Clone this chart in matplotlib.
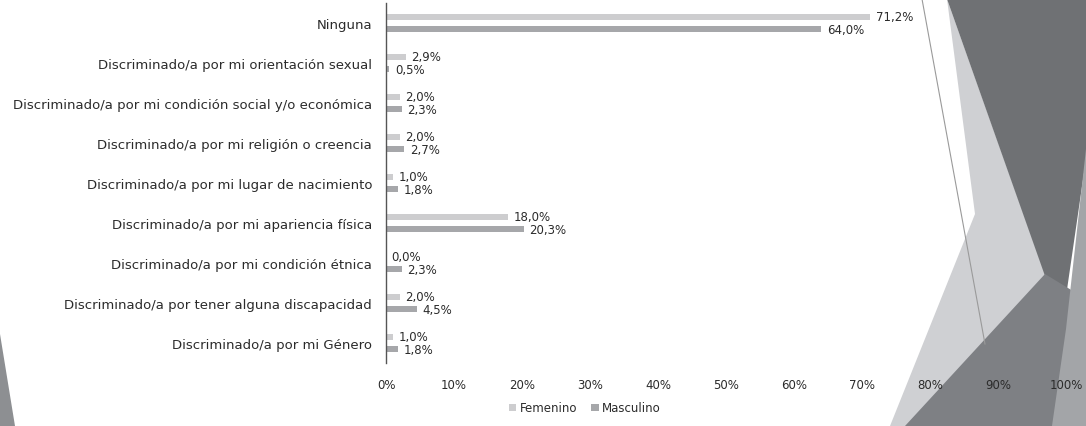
import matplotlib.pyplot as plt
import numpy as np
from matplotlib.patches import Polygon

categorias = [
    "Ninguna",
    "Discriminado/a por mi orientación sexual",
    "Discriminado/a por mi condición social y/o económica",
    "Discriminado/a por mi religión o creencia",
    "Discriminado/a por mi lugar de nacimiento",
    "Discriminado/a por mi apariencia física",
    "Discriminado/a por mi condición étnica",
    "Discriminado/a por tener alguna discapacidad",
    "Discriminado/a por mi Género",
]
femenino = [71.2, 2.9, 2.0, 2.0, 1.0, 18.0, 0.0, 2.0, 1.0]
masculino = [64.0, 0.5, 2.3, 2.7, 1.8, 20.3, 2.3, 4.5, 1.8]
ticks = [0, 10, 20, 30, 40, 50, 60, 70, 80, 90, 100]

c_fem = "#cdcdcf"
c_mas = "#a6a7aa"
c_txt = "#2b2b2b"

fig = plt.figure(figsize=(10.86, 4.27), dpi=100)
W, H = 1086.0, 427.0

def fondo(pts, color, z=-2, alpha=1.0):
    # decoracion de la diapositiva (pixeles -> coords figura)
    xy = [(x / W, 1 - y / H) for x, y in pts]
    fig.patches.append(Polygon(xy, closed=True, transform=fig.transFigure,
                               facecolor=color, edgecolor="none", zorder=z, alpha=alpha))

fondo([(947, 0), (1086, 0), (1086, 160), (1062, 325)], "#6f7174")
fondo([(947, 0), (1045, 275), (1000, 427), (890, 427), (975, 215)], "#cfd0d3", z=-3)
fondo([(1045, 275), (1086, 300), (1086, 427), (905, 427)], "#7e8084")
fondo([(1086, 150), (1086, 427), (1052, 427), (1066, 330)], "#a3a5a8")
fondo([(0, 335), (15, 427), (0, 427)], "#8d8f92")
fig.lines.append(plt.Line2D([922 / W, 985 / W], [1, 1 - 345 / H], transform=fig.transFigure,
                            color="#9a9a9a", lw=0.8, zorder=-1))

ax = fig.add_axes([386 / W, 1 - 364 / H, (1066 - 386) / W, 360 / H])
ax.set_facecolor("none")

y = np.arange(len(categorias))
h = 0.15
d = 0.155
b1 = ax.barh(y - d, femenino, height=h, color=c_fem, label="Femenino")
b2 = ax.barh(y + d, masculino, height=h, color=c_mas, label="Masculino")

for bars, vals in [(b1, femenino), (b2, masculino)]:
    for r, v in zip(bars, vals):
        ax.text(v + 0.8, r.get_y() + r.get_height() / 2, f"{v:.1f}%".replace(".", ","),
                va="center", ha="left", fontsize=8.5, color=c_txt)

ax.set_ylim(len(categorias) - 0.5, -0.5)
ax.set_xlim(0, 100)
ax.set_yticks(y)
ax.set_yticklabels(categorias, fontsize=9.5, color=c_txt)
ax.set_xticks(ticks)
ax.set_xticklabels([f"{t}%" for t in ticks], fontsize=8.5, color=c_txt)
ax.tick_params(axis="both", length=0)
ax.tick_params(axis="y", pad=10)
ax.tick_params(axis="x", pad=11)
for s in ["top", "right", "bottom"]:
    ax.spines[s].set_visible(False)
ax.spines["left"].set_color("#555555")
ax.spines["left"].set_linewidth(1.0)

fig.legend(handles=[b1, b2], labels=["Femenino", "Masculino"], loc="center",
           bbox_to_anchor=(585 / W, 1 - 409 / H), ncol=2, frameon=False,
           fontsize=8.5, handlelength=0.6, handleheight=0.6, handletextpad=0.3,
           columnspacing=1.2, labelcolor=c_txt)

fig.savefig("out.png", dpi=100)
